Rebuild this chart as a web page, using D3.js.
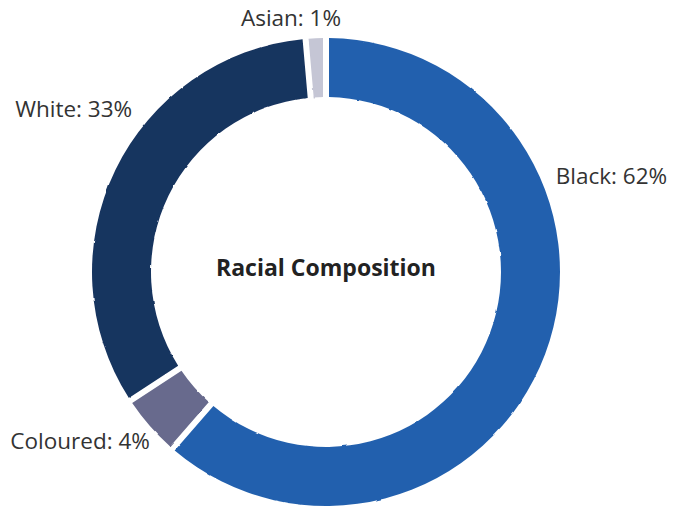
<!DOCTYPE html>
<html><head><meta charset="utf-8">
<script src="https://cdn.jsdelivr.net/npm/d3@7"></script>
<style>html,body{margin:0;padding:0;background:#fff}</style>
</head><body>
<svg id="chart" width="683" height="512"></svg>
<script>
const categories = ["Black", "Coloured", "White", "Asian"];
const values = [62, 4, 33, 1];
const colors = ["#2461ae", "#686b8d", "#19345f", "#c5c6d5"];
const labelAngles = [67.3, 226.2, 310, 3.4]; // degrees clockwise from top
const labelRadii = [249, 244, 253, 254.5];
const labelAnchors = ["start", "end", "end", "end"];
const title = "Racial Composition";

const svg = d3.select("#chart");
const cx = 326, cy = 272, outerR = 234, innerR = 175;

const defs = svg.append("defs");
const f = defs.append("filter").attr("id", "rough").attr("x", "-5%").attr("y", "-5%").attr("width", "110%").attr("height", "110%");
f.append("feTurbulence").attr("type", "fractalNoise").attr("baseFrequency", 0.09).attr("numOctaves", 2).attr("seed", 3).attr("result", "n");
f.append("feDisplacementMap").attr("in", "SourceGraphic").attr("in2", "n").attr("scale", 2).attr("xChannelSelector", "R").attr("yChannelSelector", "G");

const g = svg.append("g").attr("transform", `translate(${cx},${cy})`);

const data = categories.map((c, i) => ({ cat: c, value: values[i], color: colors[i], la: labelAngles[i], lr: labelRadii[i], anchor: labelAnchors[i] }));
const pie = d3.pie().value(d => d.value).sort(null).padAngle(6 / outerR);
const arc = d3.arc().innerRadius(innerR).outerRadius(outerR).padRadius(outerR);

g.append("g").attr("filter", "url(#rough)")
  .selectAll("path.slice").data(pie(data)).enter().append("path")
  .attr("class", "slice")
  .attr("d", arc)
  .attr("fill", d => d.data.color);

g.selectAll("text.lbl").data(pie(data)).enter().append("text")
  .attr("class", "lbl")
  .attr("x", d => d.data.lr * Math.sin(d.data.la * Math.PI / 180))
  .attr("y", d => -d.data.lr * Math.cos(d.data.la * Math.PI / 180))
  .attr("dy", "0.35em")
  .attr("text-anchor", d => d.data.anchor)
  .attr("font-family", "Open Sans, sans-serif")
  .attr("font-size", 22.5)
  .attr("fill", "#333")
  .text(d => `${d.data.cat}: ${d.data.value}%`);

g.append("text")
  .attr("x", 0).attr("y", -4)
  .attr("dy", "0.35em")
  .attr("text-anchor", "middle")
  .attr("font-family", "Open Sans, sans-serif")
  .attr("font-weight", "bold")
  .attr("font-size", 23)
  .attr("fill", "#222")
  .text(title);
</script>
</body></html>
